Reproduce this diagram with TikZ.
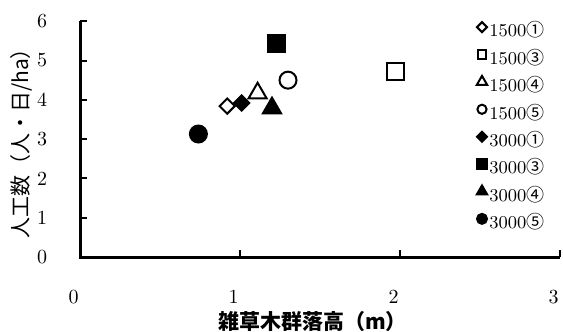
\documentclass[tikz,border=0pt]{standalone}
\usepackage{fontspec}
\newfontfamily\cjk{Noto Sans CJK JP}
\usetikzlibrary{shapes.geometric,positioning}
\tikzset{
	mk/.style={inner sep=0pt, line width=1pt, draw=black},
	osq/.style={mk, rectangle, minimum size=#1}, osq/.default=8.5pt,
	fsq/.style={osq=#1, fill=black}, fsq/.default=8.5pt,
	odia/.style={mk, diamond, aspect=1, minimum size=#1}, odia/.default=8pt,
	fdia/.style={odia=#1, fill=black}, fdia/.default=8pt,
	otri/.style={mk, regular polygon, regular polygon sides=3, minimum size=#1}, otri/.default=10.4pt,
	ftri/.style={otri=#1, fill=black}, ftri/.default=10.4pt,
	ocirc/.style={mk, circle, minimum size=#1}, ocirc/.default=8.5pt,
	fcirc/.style={ocirc=#1, fill=black}, fcirc/.default=8.5pt,
	num/.style={inner sep=0pt, font=\fontsize{10}{12}\selectfont},
	lab/.style={inner sep=0pt, font=\fontsize{9}{11}\selectfont}
}

\begin{document}
\begin{tikzpicture}[x=80pt, y=19.65pt]
	\useasboundingbox (-0.5,-1.883) rectangle (3.01875,6.540);
	% axes
	\draw [line width=1.5pt] (0,6) -- (0,0) -- (3,0);
	\foreach \y in {1,...,6}
		\draw [line width=1pt] (0,\y) -- ++(3.5pt,0);
	\foreach \x in {1,2,3}
		\draw [line width=1pt] (\x,0) -- ++(0,3.5pt);
	\foreach \y in {0,...,6}
		\node [num] (ty\y) at (-0.2375,\y) {\y};
	\foreach \x in {0,...,3}
		\node [num] (tx\x) at (\x-0.04,-1.02) {\x};
	\node [font=\cjk\bfseries\fontsize{10.5}{12}\selectfont, inner sep=0pt] (xlab) at (1.453,-1.654) {雑草木群落高（m）};
	\node [font=\cjk\fontsize{10.5}{12}\selectfont, inner sep=0pt, rotate=90] (ylab) at (-0.3688,3.015) {人工数（人・日/ha）};
	% data
	\node [odia]  (d15a) at (0.92,3.84) {};
	\node [osq]   (d15c) at (1.97,4.73) {};
	\node [otri]  (d15d) at (1.11,4.17) {};
	\node [ocirc] (d15e) at (1.30,4.50) {};
	\node [fdia]  (d30a) at (1.01,3.92) {};
	\node [fsq]   (d30c) at (1.225,5.44) {};
	\node [ftri]  (d30d) at (1.20,3.79) {};
	\node [fcirc] (d30e) at (0.74,3.13) {};
	% legend
	\foreach \s/\w/\t [count=\i] in {odia/5.4pt/1500{\cjk ①}, osq/4.4pt/1500{\cjk ③}, otri/6pt/1500{\cjk ④}, ocirc/4.6pt/1500{\cjk ⑤},
		fdia/5.4pt/3000{\cjk ①}, fsq/4.6pt/3000{\cjk ③}, ftri/6pt/3000{\cjk ④}, fcirc/5pt/3000{\cjk ⑤}} {
		\node [\s=\w] (lm\i) at (2.5125,{5.85-0.697*(\i-1)}) {};
		\node [lab, anchor=west] (lt\i) at ([xshift=3.5pt, yshift=-1.5pt]lm\i.center) {\t};
	}
\end{tikzpicture}
\end{document}
